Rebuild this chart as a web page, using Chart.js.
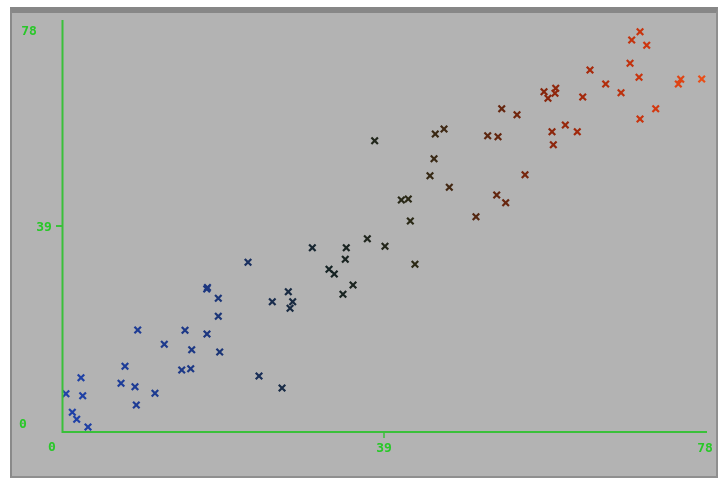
<!DOCTYPE html>
<html>
<head>
<meta charset="utf-8">
<script src="https://cdn.jsdelivr.net/npm/chart.js@4"></script>
<style>
  html, body { margin: 0; padding: 0; background: #ffffff; }
  #frame {
    position: absolute; left: 10px; top: 7px; width: 708px; height: 471px;
    box-sizing: border-box; background: #b3b3b3;
    border-left: 2px solid #8a8a8a; border-top: 6px solid #878787;
    border-right: 2px solid #8f8f8f; border-bottom: 2px solid #8f8f8f;
  }
  #wrap { position: absolute; left: 0; top: 0; width: 704px; height: 463px; }
</style>
</head>
<body>
<div id="frame"><div id="wrap"><canvas id="c"></canvas></div></div>
<script>
// ---- data ----
const xValues = [
  0.48, 1.25, 1.78, 3.15, 2.30, 2.51, 7.15, 7.63, 8.84, 9.00,
  9.17, 11.26, 12.39, 14.50, 14.90, 15.59, 15.71, 17.53, 17.62, 17.56,
  18.93, 18.93, 19.10, 22.53, 23.86, 26.65, 25.47, 27.41, 27.94, 27.62,
  30.32, 32.34, 32.98, 34.31, 34.43, 34.03, 35.25, 36.98, 39.12, 42.75,
  37.87, 41.10, 41.94, 42.19, 44.57, 45.06, 46.91, 45.21, 46.27, 50.14,
  52.65, 53.74, 56.08, 51.56, 52.81, 53.26, 55.11, 58.38, 58.86, 59.71,
  59.80, 59.35, 60.96, 62.41, 59.51, 63.07, 63.95, 65.85, 67.71, 68.80,
  69.89, 70.01, 69.00, 70.82, 71.91, 70.01, 74.94, 74.65, 77.48
];
const yValues = [
  7.10, 3.56, 2.23, 0.76, 10.14, 6.72, 9.07, 12.31, 8.43, 4.95,
  19.21, 7.17, 16.49, 11.60, 19.16, 11.85, 15.47, 27.01, 27.30, 18.45,
  25.25, 21.82, 15.03, 32.09, 10.46, 8.18, 24.60, 26.50, 24.60, 23.34,
  34.87, 30.76, 29.87, 32.67, 34.87, 26.01, 27.78, 36.58, 35.14, 31.71,
  55.23, 43.95, 44.14, 39.95, 48.57, 51.80, 46.36, 56.50, 57.45, 40.77,
  44.90, 43.43, 48.76, 56.18, 55.99, 61.32, 60.17, 64.55, 63.29, 64.25,
  65.20, 56.94, 58.21, 56.94, 54.47, 63.54, 68.68, 66.02, 64.36, 69.95,
  67.29, 75.96, 74.39, 73.38, 61.32, 59.36, 66.91, 66.02, 66.97
];
const tickValues = [0, 39, 78];
const tickLabels = ['0', '39', '78'];

// ---- styling helpers ----
const stops = [
  [0.00, [32, 66, 170]],
  [0.22, [28, 55, 130]],
  [0.32, [25, 45, 80]],
  [0.42, [22, 35, 35]],
  [0.55, [45, 42, 22]],
  [0.68, [100, 38, 15]],
  [0.80, [160, 40, 12]],
  [0.92, [210, 55, 15]],
  [1.00, [235, 80, 25]]
];
function colorFor(x) {
  const t = Math.max(0, Math.min(1, x / 78));
  for (let i = 1; i < stops.length; i++) {
    if (t <= stops[i][0]) {
      const a = stops[i - 1], b = stops[i];
      const f = (t - a[0]) / (b[0] - a[0]);
      const c = a[1].map((v, k) => Math.round(v + (b[1][k] - v) * f));
      return `rgb(${c[0]},${c[1]},${c[2]})`;
    }
  }
  return 'rgb(235,80,25)';
}

const points = xValues.map((x, i) => ({ x, y: yValues[i] }));
const pointColors = xValues.map(colorFor);

const AXIS = 'rgb(58,192,58)';
const TEXT = 'rgb(40,200,40)';
// label placement nudges as in the reference
const yLabelPos = { 0: [-39, -6], 39: [-18, 2], 78: [-33, 11] };
const xLabelPos = { 0: [-10, 17], 39: [0, 18], 78: [-1, 18] };

const axesPlugin = {
  id: 'axesPlugin',
  afterDraw(chart) {
    const ctx = chart.ctx;
    const xs = chart.scales.x, ys = chart.scales.y;
    const x0 = xs.getPixelForValue(0), x78 = xs.getPixelForValue(78);
    const y0 = ys.getPixelForValue(0), y78 = ys.getPixelForValue(78);
    ctx.save();
    ctx.strokeStyle = AXIS;
    ctx.lineWidth = 2;
    ctx.beginPath();
    ctx.moveTo(x0 + 0.5, y78 - 1);
    ctx.lineTo(x0 + 0.5, y0 + 1);
    ctx.lineTo(x78 + 1, y0 + 1);
    ctx.stroke();
    const ym = ys.getPixelForValue(tickValues[1]);
    ctx.beginPath();
    ctx.moveTo(x0 - 6, ym); ctx.lineTo(x0, ym);
    ctx.stroke();
    const xm = xs.getPixelForValue(tickValues[1]);
    ctx.lineWidth = 1.5;
    ctx.beginPath();
    ctx.moveTo(xm, y0 + 1); ctx.lineTo(xm, y0 + 7);
    ctx.stroke();
    ctx.fillStyle = TEXT;
    ctx.font = 'bold 13px "DejaVu Sans Mono", monospace';
    ctx.textAlign = 'center';
    ctx.textBaseline = 'middle';
    tickValues.forEach((v, i) => {
      const py = ys.getPixelForValue(v);
      const oy = yLabelPos[v];
      ctx.fillText(tickLabels[i], x0 + oy[0], py + oy[1]);
      const px = xs.getPixelForValue(v);
      const ox = xLabelPos[v];
      ctx.fillText(tickLabels[i], px + ox[0], y0 + ox[1]);
    });
    ctx.restore();
  }
};

new Chart(document.getElementById('c'), {
  type: 'scatter',
  data: {
    datasets: [{
      data: points,
      pointStyle: 'crossRot',
      pointRadius: 4.6,
      pointHoverRadius: 4.6,
      pointBorderWidth: 2.2,
      borderColor: pointColors,
      backgroundColor: pointColors,
      clip: false
    }]
  },
  options: {
    responsive: true,
    maintainAspectRatio: false,
    animation: false,
    layout: { padding: { left: 50, right: 10, top: 8, bottom: 45 } },
    plugins: { legend: { display: false }, tooltip: { enabled: false } },
    scales: {
      x: { type: 'linear', min: 0, max: 78, display: false },
      y: { type: 'linear', min: 0, max: 78, display: false }
    }
  },
  plugins: [axesPlugin]
});
</script>
</body>
</html>
